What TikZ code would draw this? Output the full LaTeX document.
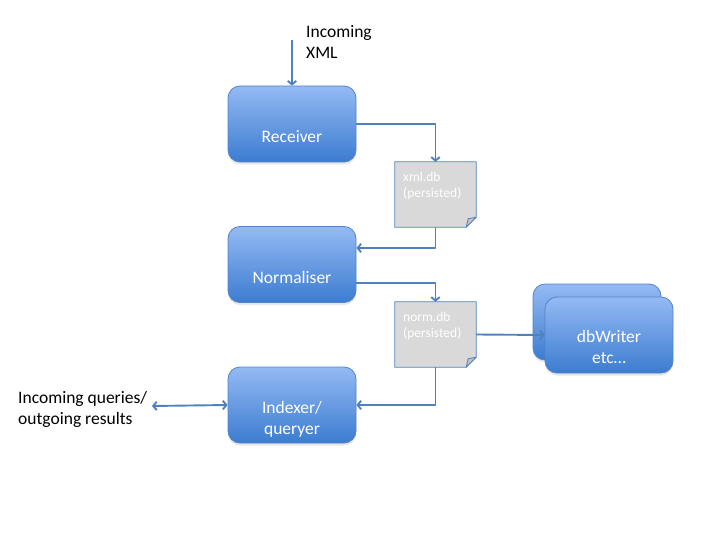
\documentclass[tikz,border=0pt]{standalone}
\usepackage{fontspec}
\setmainfont{Carlito}
\usetikzlibrary{arrows.meta,shadows}
\definecolor{boxtop}{RGB}{148,186,244}
\definecolor{boxbot}{RGB}{60,124,208}
\definecolor{boxedge}{RGB}{84,132,196}
\definecolor{linecol}{RGB}{79,129,189}
\definecolor{docfill}{RGB}{217,217,217}
\definecolor{docfold}{RGB}{196,196,196}
\begin{document}
\begin{tikzpicture}[line join=round,>={Straight Barb[length=3.5pt,width=8.5pt]},x=1pt,y=-1pt,
  proc/.style={rounded corners=12pt,draw=boxedge,line width=0.8pt,top color=boxtop,bottom color=boxbot,minimum width=128pt,minimum height=76pt,drop shadow={opacity=0.2,shadow xshift=0pt,shadow yshift=-2.5pt}},
  proctext/.style={text=white,font=\fontsize{17.5}{21}\selectfont,align=center,inner sep=0pt},
  doc/.style={minimum width=81pt,minimum height=65pt,inner sep=0pt},
  doctext/.style={text=white,font=\fontsize{13.5}{16}\selectfont,align=left,inner sep=0pt,anchor=north west},
  plain/.style={font=\fontsize{17.5}{21}\selectfont,align=left,inner sep=0pt,anchor=west},
  flow/.style={draw=linecol,line width=1.9pt}]
\useasboundingbox (0,0) rectangle (720,540);
\node[proc] (recv) at (292,124) {};
\node[proc] (norm) at (292,264.5) {};
\node[proc] (idx) at (292,405) {};
\node[proc] (writerback) at (597,322) {};
\node[proc] (writer) at (609,335) {};
\node[proctext] (recvtext) at (292,136.5) {Receiver};
\node[proctext] (normtext) at (292,277) {Normaliser};
\node[proctext] (idxtext) at (292,419.5) {Indexer/\\queryer};
\node[proctext] (writertext) at (609,347) {dbWriter\\etc…};
\node[doc] (xmldb) at (435.5,194.5) {};
\node[doc] (normdb) at (435.5,334.5) {};
\foreach \d in {xmldb,normdb}{
  \filldraw[fill=docfill,draw=linecol,line width=0.8pt] (\d.north west) -- (\d.north east) -- ([yshift=10pt]\d.south east) -- ([xshift=-10pt]\d.south east) -- (\d.south west) -- cycle;
  \filldraw[fill=docfold,draw=linecol,line width=0.8pt] ([xshift=-10pt]\d.south east) -- ([xshift=-8pt,yshift=8.5pt]\d.south east) -- ([yshift=10pt]\d.south east) -- cycle;
}
\node[doctext] (xmldbtext) at (403,171.5) {xml.db\\(persisted)};
\node[doctext] (normdbtext) at (403,311.5) {norm.db\\(persisted)};
\node[plain] (xmlin) at (306,42) {Incoming\\XML};
\node[plain] (queries) at (18,409) {Incoming queries/\\outgoing results};
\coordinate (xmlstart) at (292,40);
\coordinate (qrystart) at (152,406);
\draw[flow,->] (xmlstart) -- (recv.north);
\draw[flow,->] (recv.east) -| (xmldb.north);
\draw[flow,->] (xmldb.south) |- ([yshift=16.5pt]norm.east);
\draw[flow,->] ([yshift=-18.5pt]norm.east) -| (normdb.north);
\draw[flow,->] (normdb.east) -- (writer.west);
\draw[flow,->] (normdb.south) |- (idx.east);
\draw[flow,<->] (qrystart) -- (idx.west);
\end{tikzpicture}
\end{document}
